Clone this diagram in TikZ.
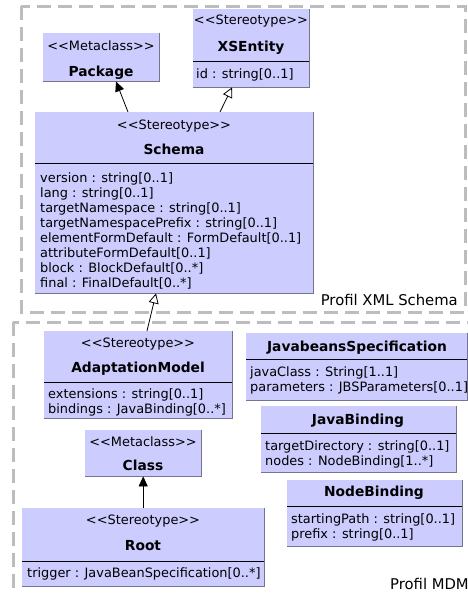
\documentclass[tikz,border=0pt]{standalone}
\usepackage{fontspec}
\setmainfont{DejaVu Sans}[Ligatures=TeXOff]
\usetikzlibrary{arrows.meta}

\definecolor{classfill}{HTML}{CCCCFF}
\definecolor{classedge}{HTML}{74748F}
\definecolor{framegray}{HTML}{BDBDBD}

\tikzset{
  classbox/.style={fill=classfill, anchor=north west, inner sep=0pt},
  stereo/.style={font=\fontsize{12.9}{15}\selectfont, inner sep=0pt, text height=9pt, text depth=2.5pt},
  cname/.style={stereo, font=\fontsize{13.8}{15}\selectfont\bfseries},
  attrs/.style={font=\fontsize{12.9}{15}\selectfont, align=left, anchor=north west, inner sep=0pt},
  profile/.style={draw=framegray, line width=3pt, dash pattern=on 14pt off 7pt},
  inherit/.style={-{Triangle[open, length=10pt, width=10pt]}, line width=0.8pt},
  extend/.style={-{Triangle[length=10pt, width=9pt]}, line width=0.8pt},
}

\begin{document}
\begin{tikzpicture}[x=1pt, y=-1pt]
  \useasboundingbox (0,0) rectangle (468,595);
  \clip (0,0) rectangle (468,595);

  % profile frames
  \draw[profile] (21,6) rectangle (465,312);
  \draw[profile] (13,322) rectangle (490,625);
  \node[anchor=base east, font=\fontsize{14.8}{16}\selectfont, inner sep=0pt] (xsdlabel) at (458,305) {Profil XML Schema};
  \node[anchor=base west, font=\fontsize{14.8}{16}\selectfont, inner sep=0pt] (mdmlabel) at (390,589) {Profil MDM};

  % Package
  \node[classbox, minimum width=116pt, minimum height=48pt] (package) at (43,33) {};
  \draw[classedge, line width=1.5pt] (package.north east) -- (package.south east) -- (package.south west);
  \node[stereo] (package-st) at (101,47) {<<Metaclass>>};
  \node[cname] (package-nm) at (101,73) {Package};

  % XSEntity
  \node[classbox, minimum width=116pt, minimum height=78pt] (xsentity) at (193,9) {};
  \draw[classedge, line width=1.5pt] (xsentity.north east) -- (xsentity.south east) -- (xsentity.south west);
  \draw[line width=0.8pt] ([yshift=-52pt]xsentity.north west) -- ([yshift=-52pt]xsentity.north east);
  \node[stereo] (xsentity-st) at (251,21) {<<Stereotype>>};
  \node[cname] (xsentity-nm) at (251,48) {XSEntity};
  \node[attrs] (xsentity-at) at (196,68) {id : string[0..1]};

  % Schema
  \node[classbox, minimum width=278pt, minimum height=181pt] (schema) at (35,112) {};
  \draw[classedge, line width=1.5pt] (schema.north east) -- (schema.south east) -- (schema.south west);
  \draw[line width=0.8pt] ([yshift=-51pt]schema.north west) -- ([yshift=-51pt]schema.north east);
  \node[stereo] (schema-st) at (174,126) {<<Stereotype>>};
  \node[cname] (schema-nm) at (174,151) {Schema};
  \node[attrs] (schema-at) at (40,172) {version : string[0..1]\\
    lang : string[0..1]\\
    targetNamespace : string[0..1]\\
    targetNamespacePrefix : string[0..1]\\
    elementFormDefault : FormDefault[0..1]\\
    attributeFormDefault[0..1]\\
    block : BlockDefault[0..*]\\
    final : FinalDefault[0..*]};

  % AdaptationModel
  \node[classbox, minimum width=188pt, minimum height=87pt] (adaptation) at (44,331) {};
  \draw[classedge, line width=1.5pt] (adaptation.north east) -- (adaptation.south east) -- (adaptation.south west);
  \draw[line width=0.8pt] ([yshift=-51pt]adaptation.north west) -- ([yshift=-51pt]adaptation.north east);
  \node[stereo] (adaptation-st) at (138,344) {<<Stereotype>>};
  \node[cname] (adaptation-nm) at (138,369) {AdaptationModel};
  \node[attrs] (adaptation-at) at (48,388) {extensions : string[0..1]\\
    bindings : JavaBinding[0..*]};

  % JavabeansSpecification
  \node[classbox, minimum width=221pt, minimum height=67pt] (javabeans) at (246,333) {};
  \draw[classedge, line width=1.5pt] (javabeans.north east) -- (javabeans.south east) -- (javabeans.south west);
  \draw[line width=0.8pt] ([yshift=-26pt]javabeans.north west) -- ([yshift=-26pt]javabeans.north east);
  \node[cname] (javabeans-nm) at (357,348) {JavabeansSpecification};
  \node[attrs] (javabeans-at) at (250,366) {javaClass : String[1..1]\\
    parameters : JBSParameters[0..1]};

  % JavaBinding
  \node[classbox, minimum width=195pt, minimum height=66pt] (javabinding) at (261,406) {};
  \draw[classedge, line width=1.5pt] (javabinding.north east) -- (javabinding.south east) -- (javabinding.south west);
  \draw[line width=0.8pt] ([yshift=-27pt]javabinding.north west) -- ([yshift=-27pt]javabinding.north east);
  \node[cname] (javabinding-nm) at (358,421) {JavaBinding};
  \node[attrs] (javabinding-at) at (265,440) {targetDirectory : string[0..1]\\
    nodes : NodeBinding[1..*]};

  % NodeBinding
  \node[classbox, minimum width=175pt, minimum height=66pt] (nodebinding) at (287,480) {};
  \draw[classedge, line width=1.5pt] (nodebinding.north east) -- (nodebinding.south east) -- (nodebinding.south west);
  \draw[line width=0.8pt] ([yshift=-26pt]nodebinding.north west) -- ([yshift=-26pt]nodebinding.north east);
  \node[cname] (nodebinding-nm) at (374,493) {NodeBinding};
  \node[attrs] (nodebinding-at) at (291,513) {startingPath : string[0..1]\\
    prefix : string[0..1]};

  % Class
  \node[classbox, minimum width=116pt, minimum height=46pt] (class) at (85,430) {};
  \draw[classedge, line width=1.5pt] (class.north east) -- (class.south east) -- (class.south west);
  \node[stereo] (class-st) at (143,443) {<<Metaclass>>};
  \node[cname] (class-nm) at (143,467) {Class};

  % Root
  \node[classbox, minimum width=242pt, minimum height=78pt] (root) at (22,508) {};
  \draw[classedge, line width=1.5pt] (root.north east) -- (root.south east) -- (root.south west);
  \draw[line width=0.8pt] ([yshift=-53pt]root.north west) -- ([yshift=-53pt]root.north east);
  \node[stereo] (root-st) at (143,521) {<<Stereotype>>};
  \node[cname] (root-nm) at (143,547) {Root};
  \node[attrs] (root-at) at (27,567) {trigger : JavaBeanSpecification[0..*]};

  % relations
  \draw[extend] ([xshift=93pt]schema.north west) -- ([xshift=73pt]package.south west);
  \draw[inherit] ([xshift=185pt]schema.north west) -- ([xshift=39pt]xsentity.south west);
  \draw[inherit] ([xshift=103pt]adaptation.north west) -- ([xshift=121pt]schema.south west);
  \draw[extend] (root.north) -- (class.south);
\end{tikzpicture}
\end{document}
